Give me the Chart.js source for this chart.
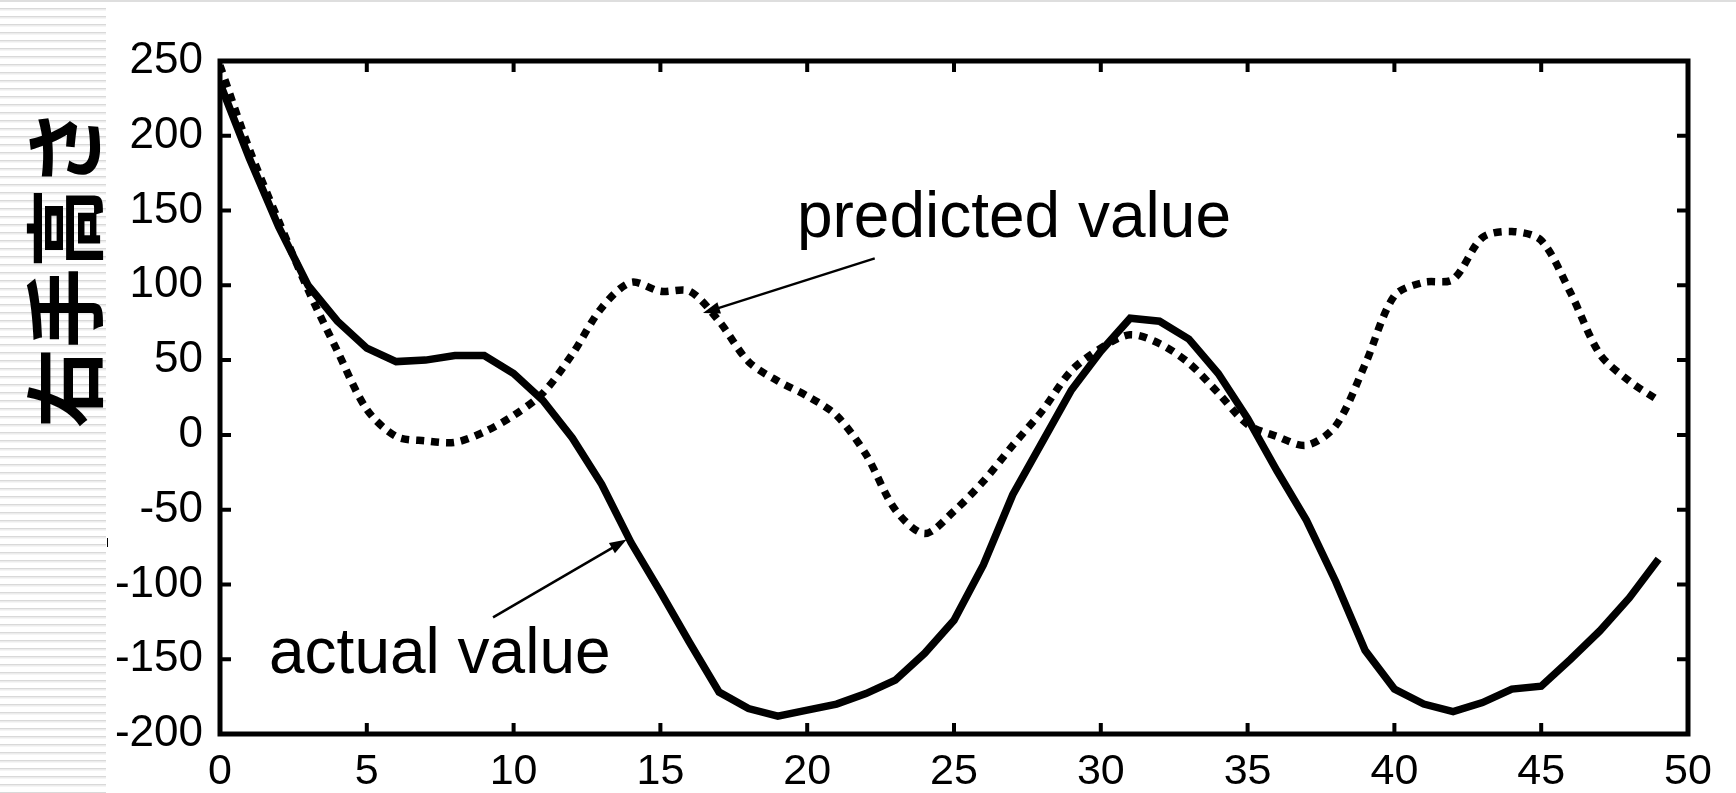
<!DOCTYPE html>
<html>
<head>
<meta charset="utf-8">
<script src="https://cdn.jsdelivr.net/npm/chart.js@4.4.1/dist/chart.umd.min.js"></script>
<style>
  html, body { margin: 0; padding: 0; background: #fff; }
  #wrap { width: 1736px; height: 793px; position: relative; }
</style>
</head>
<body>
<div id="wrap"><canvas id="chart"></canvas></div>
<script>
// time steps
const steps = [0, 1, 2, 3, 4, 5, 6, 7, 8, 9,
    10, 11, 12, 13, 14, 15, 16, 17, 18, 19,
    20, 21, 22, 23, 24, 25, 26, 27, 28, 29,
    30, 31, 32, 33, 34, 35, 36, 37, 38, 39,
    40, 41, 42, 43, 44, 45, 46, 47, 48, 49];

// actual value (solid)
const actualValues = [235, 185, 139, 100, 76, 58, 49, 50, 53, 53,
    41, 23, -2, -33, -72, -105, -139, -172, -183, -188,
    -184, -180, -173, -164, -146, -124, -87, -40, -5, 30,
    56, 78, 76, 64, 41, 11, -24, -57, -98, -144,
    -170, -180, -185, -179, -170, -168, -150, -131, -109, -83];

// predicted value (dotted)
const predictedValues = [247, 191, 143, 97, 56, 17, -1, -4, -5, 2,
    13, 28, 54, 85, 102, 96, 96, 76, 49, 36,
    26, 13, -13, -50, -66, -51, -31, -7, 16, 43,
    58, 67, 61, 48, 28, 7, -1, -7, 6, 47,
    93, 102, 104, 132, 136, 130, 95, 54, 36, 23];

const yTitle = '右手高さ';
const xTicks = { min: 0, max: 50, step: 5 };
const yTicks = { min: -200, max: 250, step: 50 };

// annotation labels with arrows, in data units
const notes = [
    { text: 'predicted value', x: 19.65, y: 132, from: [22.3, 118], to: [16.45, 81.5] },
    { text: 'actual value', x: 1.67, y: -159, from: [9.3, -122], to: [13.85, -70] }
];

function pts(vals) {
    return steps.map((s, i) => ({ x: s, y: vals[i] }));
}

function arrow(ctx, x1, y1, x2, y2) {
    const a = Math.atan2(y2 - y1, x2 - x1);
    const len = 17, half = 6;
    ctx.beginPath();
    ctx.moveTo(x1, y1);
    ctx.lineTo(x2 - Math.cos(a) * len * 0.8, y2 - Math.sin(a) * len * 0.8);
    ctx.lineWidth = 2.5;
    ctx.stroke();
    ctx.beginPath();
    ctx.moveTo(x2, y2);
    ctx.lineTo(x2 - Math.cos(a) * len - Math.sin(a) * half, y2 - Math.sin(a) * len + Math.cos(a) * half);
    ctx.lineTo(x2 - Math.cos(a) * len + Math.sin(a) * half, y2 - Math.sin(a) * len - Math.cos(a) * half);
    ctx.closePath();
    ctx.fill();
}

const decor = {
    id: 'decor',
    beforeDraw(chart) {
        const ctx = chart.ctx;
        ctx.save();
        ctx.fillStyle = '#fff';
        ctx.fillRect(0, 0, chart.width, chart.height);
        // striped side panel
        for (let y = 8; y < chart.height; y += 8) {
            ctx.fillStyle = '#d9d9d9';
            ctx.fillRect(0, y, 106, 1);
            ctx.fillStyle = '#ececec';
            ctx.fillRect(0, y + 1, 106, 1.5);
        }
        ctx.fillStyle = '#dedede';
        ctx.fillRect(0, 0, chart.width, 2);
        // vertical title
        ctx.translate(65, 268);
        ctx.rotate(-Math.PI / 2);
        ctx.fillStyle = '#000';
        ctx.font = 'bold 80px "Noto Sans CJK JP"';
        ctx.textAlign = 'center';
        ctx.textBaseline = 'middle';
        ctx.fillText(yTitle, 0, 0);
        ctx.restore();
        ctx.fillStyle = '#000';
        ctx.fillRect(107, 538, 1, 9);
    },
    afterDraw(chart) {
        const ctx = chart.ctx;
        const { left, right, top, bottom } = chart.chartArea;
        const xs = chart.scales.x, ys = chart.scales.y;
        ctx.save();
        ctx.strokeStyle = '#000';
        ctx.fillStyle = '#000';
        ctx.lineWidth = 5;
        ctx.strokeRect(left, top, right - left, bottom - top);
        ctx.lineWidth = 4;
        ctx.beginPath();
        for (let v = xTicks.min + xTicks.step; v < xTicks.max; v += xTicks.step) {
            const px = xs.getPixelForValue(v);
            ctx.moveTo(px, bottom); ctx.lineTo(px, bottom - 11);
            ctx.moveTo(px, top); ctx.lineTo(px, top + 11);
        }
        for (let v = yTicks.min + yTicks.step; v < yTicks.max; v += yTicks.step) {
            const py = ys.getPixelForValue(v);
            ctx.moveTo(left, py); ctx.lineTo(left + 11, py);
            ctx.moveTo(right, py); ctx.lineTo(right - 11, py);
        }
        ctx.stroke();
        ctx.font = '64px "Liberation Sans", Arial, sans-serif';
        ctx.textAlign = 'left';
        ctx.textBaseline = 'alphabetic';
        notes.forEach(n => {
            ctx.fillText(n.text, xs.getPixelForValue(n.x), ys.getPixelForValue(n.y));
            arrow(ctx, xs.getPixelForValue(n.from[0]), ys.getPixelForValue(n.from[1]),
                xs.getPixelForValue(n.to[0]), ys.getPixelForValue(n.to[1]));
        });
        ctx.restore();
    }
};

new Chart(document.getElementById('chart'), {
    type: 'line',
    data: {
        datasets: [{
            label: 'actual value',
            data: pts(actualValues),
            borderColor: '#000',
            borderWidth: 7.5,
            tension: 0,
            pointRadius: 0,
            fill: false
        }, {
            label: 'predicted value',
            data: pts(predictedValues),
            borderColor: '#000',
            borderWidth: 7.5,
            borderDash: [8, 7],
            borderCapStyle: 'butt',
            tension: 0.3,
            pointRadius: 0,
            fill: false
        }]
    },
    options: {
        responsive: true,
        maintainAspectRatio: false,
        animation: false,
        layout: { padding: { left: 0, right: 48, top: 61, bottom: 0 } },
        scales: {
            x: {
                type: 'linear',
                min: xTicks.min,
                max: xTicks.max,
                grid: { display: false },
                border: { display: false },
                afterFit: s => { s.height = 59; },
                ticks: {
                    stepSize: xTicks.step,
                    padding: 4,
                    color: '#000',
                    maxRotation: 0,
                    font: { family: '"Liberation Sans", Arial, sans-serif', size: 43 }
                }
            },
            y: {
                min: yTicks.min,
                max: yTicks.max,
                grid: { display: false },
                border: { display: false },
                afterFit: s => { s.width = 220; },
                ticks: {
                    stepSize: yTicks.step,
                    padding: 9,
                    color: '#000',
                    font: { family: '"Liberation Sans", Arial, sans-serif', size: 44 }
                }
            }
        },
        plugins: {
            legend: { display: false },
            tooltip: { enabled: false }
        }
    },
    plugins: [decor]
});
</script>
</body>
</html>
